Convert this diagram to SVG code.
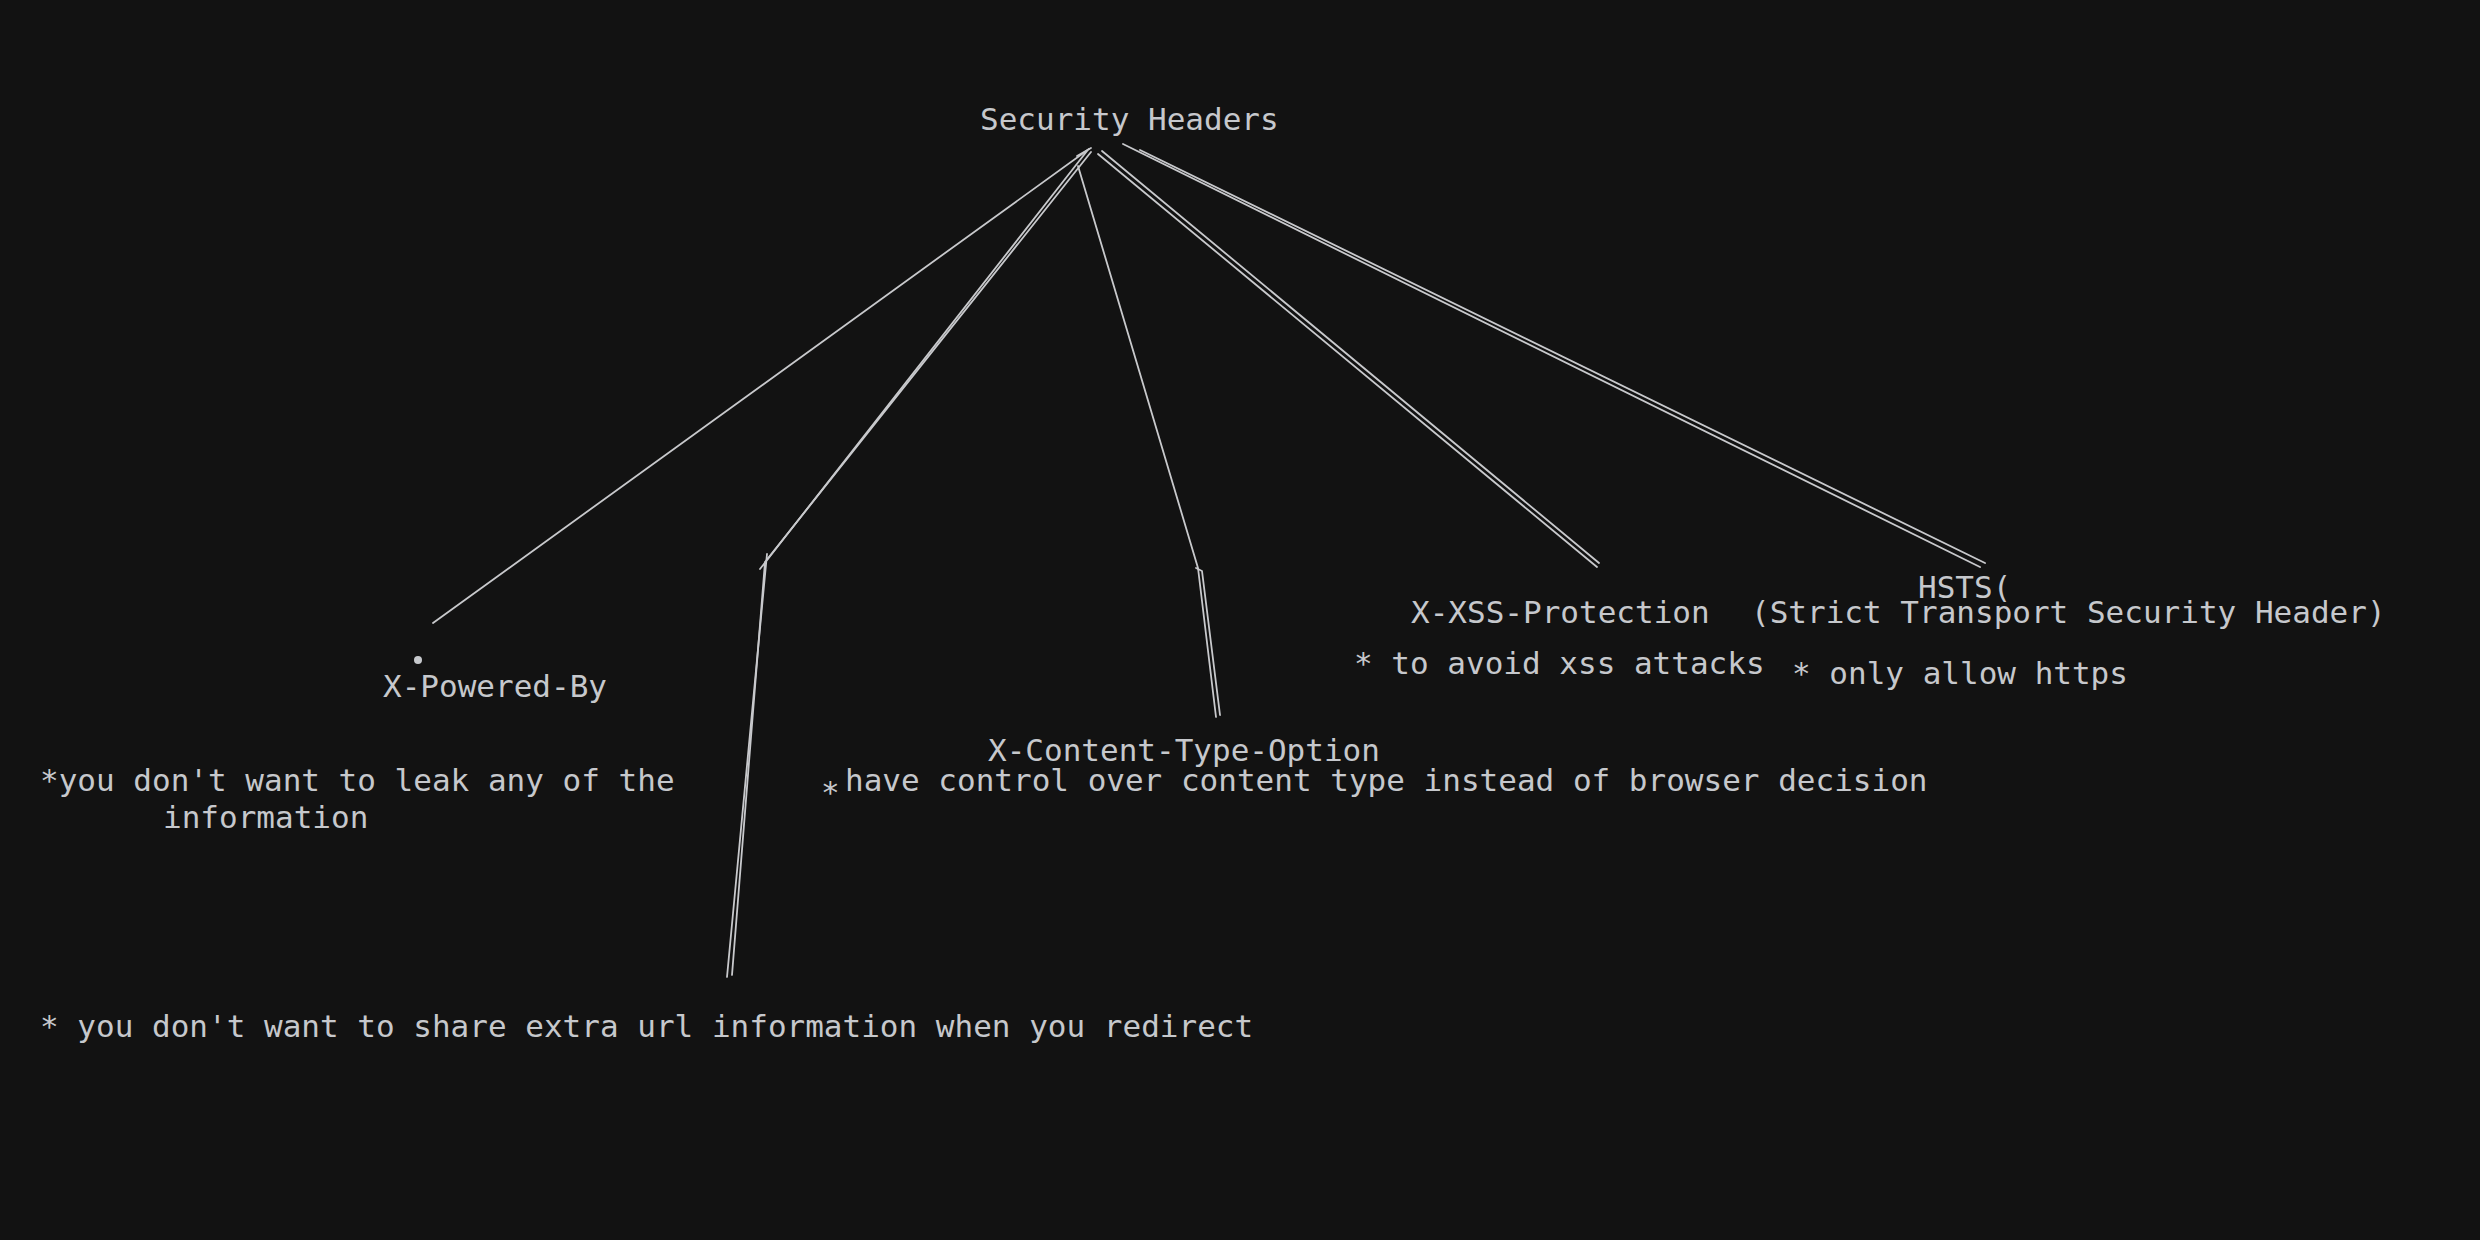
<svg xmlns="http://www.w3.org/2000/svg" width="2480" height="1240" viewBox="0 0 2480 1240">
  <style>
    .t { font-family: "DejaVu Sans Mono", "Liberation Mono", monospace; font-size: 31px; fill: #c6c8cc; }
    .c { fill: none; stroke: #c8c9cc; stroke-width: 1.8; stroke-linecap: round; stroke-linejoin: round; }
  </style>
  <rect width="2480" height="1240" fill="#121212"/>
  <g id="connectors">
    <path class="c" d="M1089,149 L433,623"/>
    <path class="c" d="M1077,156 L1091,148"/>
    <path class="c" d="M1087,151 L760,569 M767,554 L727,977"/>
    <path class="c" d="M1091,152 L765,562 L732,975"/>
    <path class="c" d="M1078,166 L1198,568 L1216,717"/>
    <path class="c" d="M1196,568 L1202,571 L1220,715"/>
    <path class="c" d="M1098,154 L1597,567"/>
    <path class="c" d="M1102,151 L1599,563"/>
    <path class="c" d="M1123,144 L1980,567"/>
    <path class="c" d="M1140,150 L1985,563"/>
  </g>
  <g id="security-headers">
    <text class="t" x="980" y="130">Security Headers</text>
  </g>
  <g id="x-powered-by">
    <circle cx="418" cy="660" r="4" fill="#c6c8cc"/>
    <text class="t" x="383" y="697">X-Powered-By</text>
    <text class="t" x="40" y="791">*you don't want to leak any of the</text>
    <text class="t" x="163" y="828">information</text>
  </g>
  <g id="redirect-note">
    <text class="t" x="40" y="1037">* you don't want to share extra url information when you redirect</text>
  </g>
  <g id="x-content-type-option">
    <text class="t" x="988" y="761">X-Content-Type-Option</text>
    <text class="t" x="821" y="803">*</text>
    <text class="t" x="845" y="791">have control over content type instead of browser decision</text>
  </g>
  <g id="x-xss-protection">
    <text class="t" x="1411" y="623">X-XSS-Protection</text>
    <text class="t" x="1354" y="674">* to avoid xss attacks</text>
  </g>
  <g id="hsts">
    <text class="t" x="1918" y="598">HSTS(</text>
    <text class="t" x="1751" y="623">(Strict Transport Security Header)</text>
    <text class="t" x="1792" y="684">* only allow https</text>
  </g>
</svg>
